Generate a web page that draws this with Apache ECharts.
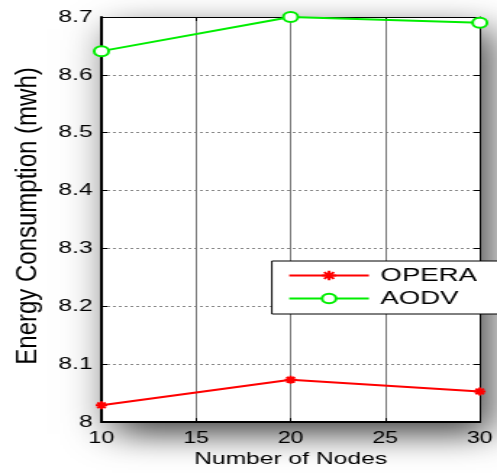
<!DOCTYPE html>
<html><head><meta charset="utf-8">
<script src="https://cdn.jsdelivr.net/npm/echarts@6/dist/echarts.min.js"></script>
<style>
html,body{margin:0;padding:0;background:#fff;overflow:hidden;}
#wrap{width:497px;height:473px;overflow:hidden;position:relative;background:#fff;}
#chart{width:343px;height:473px;transform:scaleX(1.449);transform-origin:0 0;}
</style></head><body>
<div id="wrap"><div id="chart"></div></div>
<script>
const nodes = [10, 20, 30];
const operaEnergy = [8.029, 8.073, 8.053];
const aodvEnergy = [8.641, 8.700, 8.690];
const seriesNames = ['OPERA', 'AODV'];
const xTitle = 'Number of Nodes';
const yTitle = 'Energy Consumption (mwh)';

const FONT = 'Liberation Sans, Arial, Helvetica, sans-serif';
const chart = echarts.init(document.getElementById('chart'), null, {renderer: 'canvas'});

const boxAxis = {
  axisLine: {show: true, lineStyle: {color: '#000', width: 1}},
  axisTick: {show: true, inside: true, length: 4, lineStyle: {color: '#000'}},
  axisLabel: {show: false},
  splitLine: {show: false}
};

chart.setOption({
  animation: false,
  backgroundColor: '#fff',
  grid: {
    left: 70, right: 10.5, top: 17, bottom: 46,
    show: true, backgroundColor: '#fff', borderWidth: 0,
    shadowBlur: 30, shadowColor: 'rgba(0,0,0,0.75)', shadowOffsetX: 8, shadowOffsetY: 12
  },
  graphic: [{
    type: 'text', x: 19, y: 216, rotation: Math.PI / 2, scaleX: 1.2,
    style: {text: yTitle, font: '20px ' + FONT, fill: '#000', align: 'center', verticalAlign: 'middle'}
  }],
  legend: {
    orient: 'vertical', left: 187.6, top: 261,
    padding: [5, 16, 6, 11],
    itemWidth: 55, itemHeight: 12, itemGap: 4,
    backgroundColor: '#fff', borderColor: '#000', borderWidth: 1,
    textStyle: {fontFamily: FONT, fontSize: 19, color: '#000', padding: [0, 0, 0, 3]},
    data: seriesNames
  },
  xAxis: [{
    type: 'value', min: 10, max: 30, interval: 5,
    name: xTitle, nameLocation: 'middle', nameGap: 26,
    nameTextStyle: {fontFamily: FONT, fontSize: 17, color: '#000'},
    axisLine: {show: true, onZero: false, lineStyle: {color: '#000', width: 2}},
    axisTick: {show: true, inside: true, length: 4, lineStyle: {color: '#000'}},
    axisLabel: {fontFamily: FONT, fontSize: 16, color: '#000', margin: 8},
    splitLine: {show: true, lineStyle: {color: '#777', width: 1, type: 'solid'}}
  }, Object.assign({type: 'value', min: 10, max: 30, interval: 5, position: 'top'}, boxAxis)],
  yAxis: [{
    type: 'value', min: 8, max: 8.7, interval: 0.1,
    axisLine: {show: true, onZero: false, lineStyle: {color: '#000', width: 2}},
    axisTick: {show: true, inside: true, length: 4, lineStyle: {color: '#000'}},
    axisLabel: {fontFamily: FONT, fontSize: 17, color: '#000', margin: 6},
    splitLine: {show: true, lineStyle: {color: '#888', width: 1, type: [2, 2]}}
  }, Object.assign({type: 'value', min: 8, max: 8.7, interval: 0.1, position: 'right'}, boxAxis)],
  series: [{
    name: seriesNames[0], type: 'line', clip: false,
    data: nodes.map((x, i) => [x, operaEnergy[i]]),
    symbol: 'path://M0,-5L0,5M-5,0L5,0M-3.5,-3.5L3.5,3.5M-3.5,3.5L3.5,-3.5',
    symbolSize: 8,
    lineStyle: {color: '#ff0000', width: 2},
    itemStyle: {color: '#ff0000', borderColor: '#ff0000', borderWidth: 2},
    emphasis: {disabled: true}
  }, {
    name: seriesNames[1], type: 'line', clip: false,
    data: nodes.map((x, i) => [x, aodvEnergy[i]]),
    symbol: 'emptyCircle', symbolSize: 10,
    lineStyle: {color: '#00ee00', width: 2},
    itemStyle: {color: '#00ee00', borderColor: '#00ee00', borderWidth: 2},
    emphasis: {disabled: true}
  }]
});
</script>
</body></html>
